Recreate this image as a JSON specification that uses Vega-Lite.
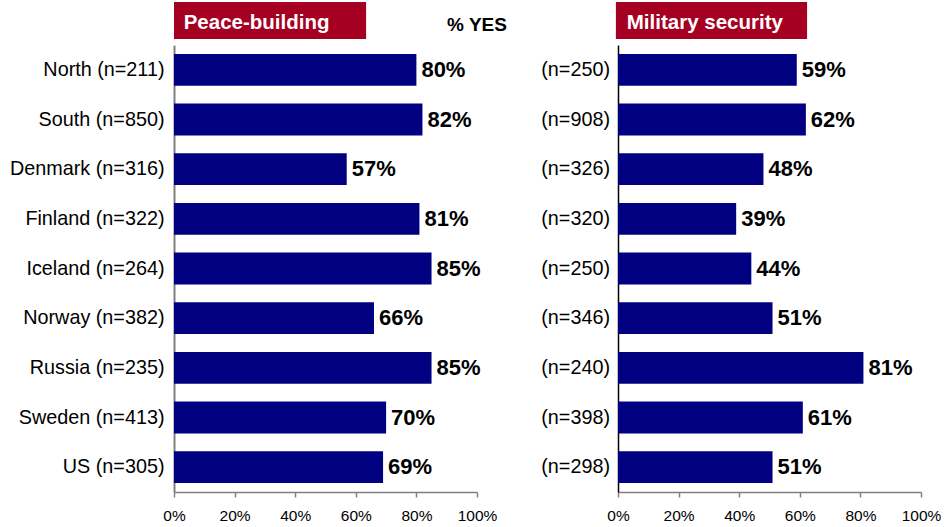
{
  "$schema": "https://vega.github.io/schema/vega-lite/v6.json",
  "padding": {"left": 9, "top": 2, "right": 0, "bottom": 0},
  "background": "white",
  "config": {
    "view": {"stroke": null},
    "font": "Liberation Sans",
    "text": {"font": "Liberation Sans"}
  },
  "datasets": {
    "rows": [
      {"country": "North", "plabel": "North (n=211)", "peace": 80, "mlabel": "(n=250)", "mil": 59},
      {"country": "South", "plabel": "South (n=850)", "peace": 82, "mlabel": "(n=908)", "mil": 62},
      {"country": "Denmark", "plabel": "Denmark (n=316)", "peace": 57, "mlabel": "(n=326)", "mil": 48},
      {"country": "Finland", "plabel": "Finland (n=322)", "peace": 81, "mlabel": "(n=320)", "mil": 39},
      {"country": "Iceland", "plabel": "Iceland (n=264)", "peace": 85, "mlabel": "(n=250)", "mil": 44},
      {"country": "Norway", "plabel": "Norway (n=382)", "peace": 66, "mlabel": "(n=346)", "mil": 51},
      {"country": "Russia", "plabel": "Russia (n=235)", "peace": 85, "mlabel": "(n=240)", "mil": 81},
      {"country": "Sweden", "plabel": "Sweden (n=413)", "peace": 70, "mlabel": "(n=398)", "mil": 61},
      {"country": "US", "plabel": "US (n=305)", "peace": 69, "mlabel": "(n=298)", "mil": 51}
    ],
    "head1": [
      {"x0": 0, "x1": 63.4, "tx": 3.2, "title": "Peace-building", "side": "% YES", "sx": 100}
    ],
    "head2": [
      {"x0": -0.7, "x1": 62.4, "tx": 2.9, "title": "Military security"}
    ]
  },
  "columns": 2,
  "bounds": "flush",
  "spacing": {"row": 6, "column": 141},
  "concat": [
    {
      "width": 303,
      "height": 37,
      "data": {"name": "head1"},
      "layer": [
        {
          "mark": {"type": "rect", "color": "#A50021"},
          "encoding": {
            "x": {"field": "x0", "type": "quantitative", "scale": {"domain": [0, 100]}, "axis": null},
            "x2": {"field": "x1"}
          }
        },
        {
          "mark": {"type": "text", "align": "left", "baseline": "middle", "dy": 2, "fontSize": 20.5, "fontWeight": "bold", "color": "white"},
          "encoding": {
            "x": {"field": "tx", "type": "quantitative"},
            "text": {"field": "title"}
          }
        },
        {
          "mark": {"type": "text", "align": "center", "baseline": "middle", "dy": 4, "fontSize": 19, "fontWeight": "bold", "color": "black"},
          "encoding": {
            "x": {"field": "sx", "type": "quantitative"},
            "text": {"field": "side"}
          }
        }
      ]
    },
    {
      "width": 303,
      "height": 37,
      "data": {"name": "head2"},
      "layer": [
        {
          "mark": {"type": "rect", "color": "#A50021"},
          "encoding": {
            "x": {"field": "x0", "type": "quantitative", "scale": {"domain": [0, 100]}, "axis": null},
            "x2": {"field": "x1"}
          }
        },
        {
          "mark": {"type": "text", "align": "left", "baseline": "middle", "dy": 2, "fontSize": 20.5, "fontWeight": "bold", "color": "white"},
          "encoding": {
            "x": {"field": "tx", "type": "quantitative"},
            "text": {"field": "title"}
          }
        }
      ]
    },
    {
      "width": 303,
      "height": 447,
      "data": {"name": "rows"},
      "transform": [{"calculate": "datum.peace + '%'", "as": "ptxt"}],
      "encoding": {
        "y": {
          "field": "plabel", "type": "nominal", "sort": null,
          "scale": {"paddingInner": 0.36, "paddingOuter": 0.18},
          "axis": {"title": null, "ticks": false, "labelPadding": 10, "labelFontSize": 19.8, "labelColor": "black", "labelFont": "Liberation Sans", "domainColor": "#808080", "domainWidth": 2, "labelLimit": 300}
        }
      },
      "layer": [
        {
          "mark": {"type": "bar", "color": "#000080"},
          "encoding": {
            "x": {
              "field": "peace", "type": "quantitative",
              "scale": {"domain": [0, 100]},
              "axis": {"title": null, "values": [0, 20, 40, 60, 80, 100], "labelExpr": "datum.value + '%'", "labelFlush": false, "labelOverlap": false, "grid": false, "tickSize": 5, "tickColor": "#808080", "domainColor": "#808080", "domainWidth": 1.5, "tickWidth": 1.5, "labelFontSize": 15.5, "labelColor": "black", "labelPadding": 11, "labelFont": "Liberation Sans"}
            }
          }
        },
        {
          "mark": {"type": "text", "align": "left", "baseline": "middle", "dx": 5, "fontSize": 22, "fontWeight": "bold", "color": "black"},
          "encoding": {
            "x": {"field": "peace", "type": "quantitative"},
            "text": {"field": "ptxt"}
          }
        }
      ]
    },
    {
      "width": 303,
      "height": 447,
      "data": {"name": "rows"},
      "transform": [{"calculate": "datum.mil + '%'", "as": "mtxt"}],
      "encoding": {
        "y": {
          "field": "plabel", "type": "nominal", "sort": null,
          "scale": {"paddingInner": 0.36, "paddingOuter": 0.18},
          "axis": {"title": null, "ticks": false, "labels": false, "domainColor": "#000000", "domainWidth": 1.5}
        }
      },
      "layer": [
        {
          "mark": {"type": "bar", "color": "#000080"},
          "encoding": {
            "x": {
              "field": "mil", "type": "quantitative",
              "scale": {"domain": [0, 100]},
              "axis": {"title": null, "values": [0, 20, 40, 60, 80, 100], "labelExpr": "datum.value + '%'", "labelFlush": false, "labelOverlap": false, "grid": false, "tickSize": 5, "tickColor": "#808080", "domainColor": "#808080", "domainWidth": 1.5, "tickWidth": 1.5, "labelFontSize": 15.5, "labelColor": "black", "labelPadding": 11, "labelFont": "Liberation Sans"}
            }
          }
        },
        {
          "mark": {"type": "text", "align": "left", "baseline": "middle", "dx": 5, "fontSize": 22, "fontWeight": "bold", "color": "black"},
          "encoding": {
            "x": {"field": "mil", "type": "quantitative"},
            "text": {"field": "mtxt"}
          }
        },
        {
          "mark": {"type": "text", "align": "right", "baseline": "middle", "dx": -8, "fontSize": 19.8, "color": "black"},
          "encoding": {
            "x": {"datum": 0, "type": "quantitative"},
            "text": {"field": "mlabel"}
          }
        }
      ]
    }
  ]
}
